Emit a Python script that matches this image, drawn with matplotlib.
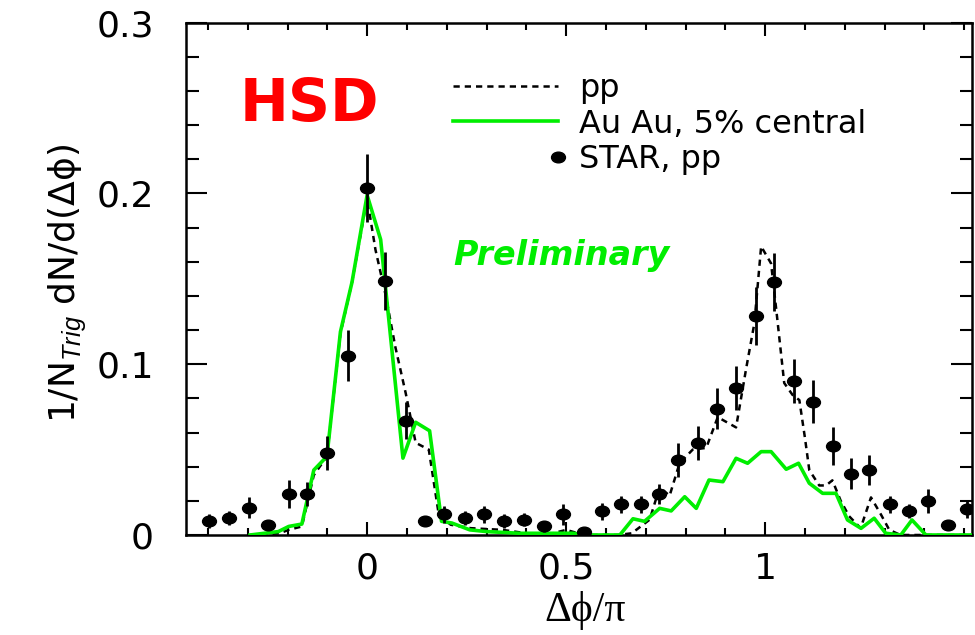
import numpy as np
import matplotlib
matplotlib.use('Agg')
import matplotlib.pyplot as plt
from matplotlib.path import Path
from matplotlib.ticker import MultipleLocator
from matplotlib.legend_handler import HandlerLine2D

plt.rcParams['font.family'] = ['DejaVu Sans']
plt.rcParams['mathtext.fontset'] = 'custom'
plt.rcParams['mathtext.rm'] = 'Liberation Sans'
plt.rcParams['mathtext.it'] = 'Liberation Sans:italic'

# HSD pp (dashed)
pp_x = [-0.294, -0.22, -0.197, -0.164, -0.134, -0.101, -0.067, -0.038, 0.0, 0.021, 0.046, 0.071,
        0.097, 0.122, 0.155, 0.18, 0.21, 0.26, 0.34, 0.40, 0.45, 0.50, 0.53, 0.56, 0.63, 0.665,
        0.71, 0.735, 0.76, 0.785, 0.818, 0.852, 0.881, 0.927, 0.952, 0.973, 0.990, 1.015, 1.028,
        1.048, 1.069, 1.086, 1.10, 1.111, 1.136, 1.153, 1.169, 1.19, 1.211, 1.24, 1.266, 1.291,
        1.312, 1.34, 1.52]
pp_y = [0.0, 0.001, 0.003, 0.005, 0.035, 0.046, 0.118, 0.148, 0.197, 0.167, 0.141, 0.110,
        0.083, 0.054, 0.050, 0.012, 0.006, 0.004, 0.003, 0.001, 0.0, 0.003, 0.001, 0.0, 0.0, 0.001,
        0.009, 0.028, 0.023, 0.042, 0.050, 0.051, 0.069, 0.063, 0.097, 0.124, 0.169, 0.159, 0.132,
        0.089, 0.082, 0.079, 0.057, 0.038, 0.029, 0.029, 0.032, 0.020, 0.011, 0.004, 0.022, 0.012,
        0.003, 0.0, 0.0]

# HSD Au Au 5% central (green)
au_x = [-0.294, -0.223, -0.197, -0.164, -0.134, -0.101, -0.067, -0.038, 0.0, 0.034, 0.09, 0.122,
        0.157, 0.187, 0.213, 0.258, 0.30, 0.383, 0.517, 0.555, 0.635, 0.668, 0.697, 0.735, 0.764,
        0.798, 0.827, 0.859, 0.894, 0.927, 0.956, 0.990, 1.015, 1.053, 1.084, 1.111, 1.1445,
        1.178, 1.207, 1.241, 1.274, 1.303, 1.341, 1.369, 1.404, 1.52]
au_y = [0.0, 0.002, 0.005, 0.0064, 0.038, 0.046, 0.119, 0.148, 0.199, 0.173, 0.045, 0.066,
        0.061, 0.008, 0.007, 0.003, 0.002, 0.001, 0.001, 0.0, 0.0, 0.0095, 0.008, 0.0156, 0.0141,
        0.0224, 0.0156, 0.0322, 0.0312, 0.0449, 0.042, 0.0488, 0.0488, 0.0385, 0.042, 0.0303, 0.0244,
        0.0244, 0.0088, 0.0039, 0.0098, 0.001, 0.0, 0.0088, 0.0, 0.0]

# STAR pp data
star_x = [-0.397, -0.346, -0.296, -0.25, -0.196, -0.151, -0.10, -0.049, 0.0, 0.046, 0.097, 0.146,
          0.194, 0.247, 0.294, 0.343, 0.395, 0.444, 0.492, 0.544, 0.59, 0.637, 0.688, 0.734,
          0.782, 0.832, 0.879, 0.928, 0.976, 1.023, 1.072, 1.12, 1.17, 1.217, 1.262, 1.313,
          1.362, 1.41, 1.459, 1.506]
star_y = [0.008, 0.010, 0.016, 0.006, 0.024, 0.024, 0.048, 0.105, 0.203, 0.149, 0.067, 0.008,
          0.012, 0.010, 0.012, 0.008, 0.009, 0.005, 0.012, 0.002, 0.014, 0.018, 0.018, 0.024,
          0.044, 0.054, 0.074, 0.086, 0.128, 0.148, 0.090, 0.078, 0.052, 0.036, 0.038, 0.018,
          0.014, 0.020, 0.006, 0.015]
star_err = [0.004, 0.004, 0.006, 0.003, 0.008, 0.007, 0.010, 0.015, 0.020, 0.017, 0.011, 0.003,
            0.005, 0.004, 0.005, 0.004, 0.004, 0.003, 0.006, 0.002, 0.005, 0.005, 0.005, 0.006,
            0.010, 0.010, 0.012, 0.013, 0.017, 0.017, 0.013, 0.0125, 0.011, 0.009, 0.009, 0.005,
            0.004, 0.007, 0.003, 0.005]

x_ticks = [0, 0.5, 1]
x_ticklabels = ['0', '0.5', '1']
y_ticks = [0, 0.1, 0.2, 0.3]
y_ticklabels = ['0', '0.1', '0.2', '0.3']
labels = ['pp', 'Au Au, 5% central', 'STAR, pp']
green = '#00ee00'


class RightMarker(HandlerLine2D):
    # put the single legend marker at the right end of the handle
    def create_artists(self, *args, **kwargs):
        arts = super().create_artists(*args, **kwargs)
        arts[0].set_markevery([2])
        return arts


circ = Path.unit_circle()
ell = Path(circ.vertices * [1.3, 1.0], circ.codes)

fig = plt.figure(figsize=(9.75, 6.35), dpi=100)
ax = fig.add_axes([0.1908, 0.1575, 0.8062, 0.8068])

l_pp, = ax.plot(pp_x, pp_y, color='k', lw=1.8, ls=(0, (2.5, 2)), label=labels[0], zorder=2)
l_au, = ax.plot(au_x, au_y, color=green, lw=2.6, label=labels[1], zorder=3)
ax.errorbar(star_x, star_y, yerr=star_err, fmt='none', ecolor='k', elinewidth=2, zorder=4)
l_star, = ax.plot(star_x, star_y, ls='none', marker=ell, ms=10, color='k', label=labels[2], zorder=5)

ax.set_xlim(-0.455, 1.52)
ax.set_ylim(0, 0.3)
ax.set_xticks(x_ticks)
ax.set_xticklabels(x_ticklabels)
ax.set_yticks(y_ticks)
ax.set_yticklabels(y_ticklabels)
ax.xaxis.set_minor_locator(MultipleLocator(0.1))
ax.yaxis.set_minor_locator(MultipleLocator(0.02))

ax.tick_params(which='both', direction='in', top=True, right=True, width=1.5, labelsize=26)
ax.tick_params(axis='x', which='major', length=9.5, pad=12)
ax.tick_params(axis='x', which='minor', length=5)
ax.tick_params(axis='y', which='major', length=15, pad=23)
ax.tick_params(axis='y', which='minor', length=9)
for s in ax.spines.values():
    s.set_linewidth(1.8)

ax.set_xlabel('Δϕ/π', fontsize=30, family=['Liberation Serif', 'DejaVu Serif'])
ax.xaxis.set_label_coords(0.508, -0.11)
ax.set_ylabel(r'1/N$_{Trig}$ dN/d(Δϕ)', fontsize=26)
ax.yaxis.set_label_coords(-0.125, 0.492)

ax.text(0.0687, 0.8086, 'HSD', transform=ax.transAxes, color='#ff0000', fontsize=42,
        fontweight='bold', va='baseline', ha='left')
ax.text(0.3397, 0.545, 'Preliminary', transform=ax.transAxes, color=green, fontsize=24,
        fontweight='bold', style='italic', va='center', ha='left')

ax.legend(handles=[l_pp, l_au, l_star], loc='upper left', bbox_to_anchor=(0.3397, 0.902),
          frameon=False, fontsize=23, handlelength=3.3, handletextpad=0.65, labelspacing=0.15,
          borderpad=0, borderaxespad=0, handler_map={l_star: RightMarker(numpoints=1)})

fig.savefig('out.png', dpi=100)
